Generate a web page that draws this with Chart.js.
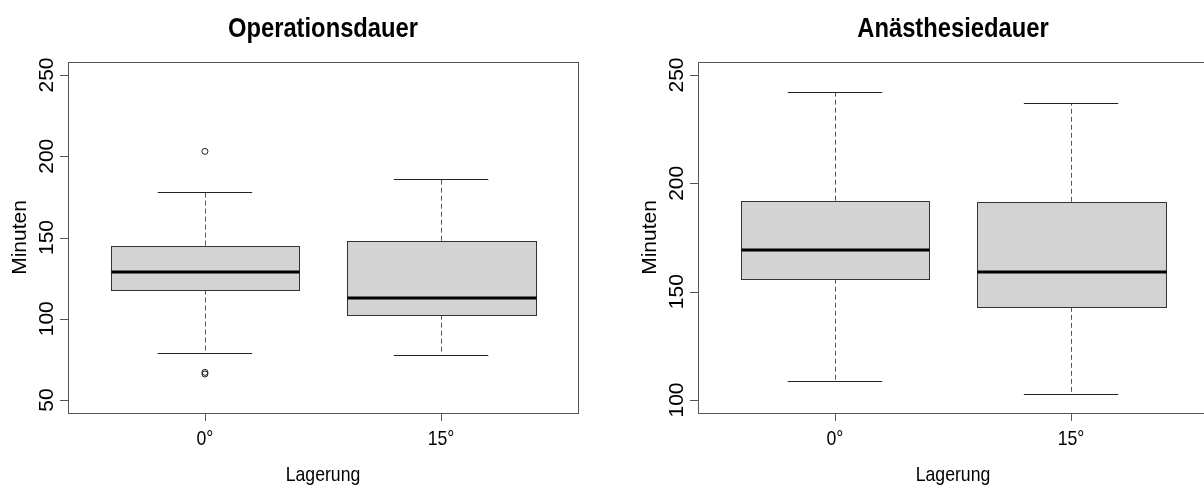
<!DOCTYPE html>
<html>
<head>
<meta charset="utf-8">
<script src="https://cdn.jsdelivr.net/npm/chart.js@4.4.1/dist/chart.umd.min.js"></script>
<style>
  html, body { margin: 0; padding: 0; background: #fff; overflow: hidden; }
  #wrap { position: relative; width: 1204px; height: 487px; overflow: hidden; }
  #c1 { position: absolute; left: 0; top: 0; }
  #c2 { position: absolute; left: 602px; top: 0; }
</style>
</head>
<body>
<div id="wrap">
  <canvas id="c1" width="602" height="487"></canvas>
  <canvas id="c2" width="620" height="487"></canvas>
</div>
<script>
// Boxplots Operationsdauer / Anästhesiedauer nach Lagerung (R-style, Chart.js)
const categories = ['0°', '15°'];

// Operationsdauer (Minuten)
const opLow = [79, 78];
const opQ1 = [118, 102.5];
const opMedian = [129, 113];
const opQ3 = [145, 148];
const opHigh = [178, 186];
const opOutliers = [{ x: 1, y: 203 }, { x: 1, y: 67 }, { x: 1, y: 66 }];
const opTicks = [50, 100, 150, 200, 250];

// Anästhesiedauer (Minuten)
const anLow = [109, 103];
const anQ1 = [156, 143];
const anMedian = [169, 159];
const anQ3 = [192, 191.5];
const anHigh = [242, 237];
const anOutliers = [];
const anTicks = [100, 150, 200, 250];

const FONT = '"Liberation Sans", Arial, sans-serif';
const SX = 0.84;  // horizontal text is narrow in the original

function hText(ctx, txt, x, y, font, sx) {
  ctx.save();
  ctx.font = font; ctx.fillStyle = '#000';
  ctx.textAlign = 'center'; ctx.textBaseline = 'alphabetic';
  ctx.translate(x, y); ctx.scale(sx, 1);
  ctx.fillText(txt, 0, 0);
  ctx.restore();
}
function vText(ctx, txt, x, y, font) {
  ctx.save();
  ctx.font = font; ctx.fillStyle = '#000';
  ctx.textAlign = 'center'; ctx.textBaseline = 'alphabetic';
  ctx.translate(x, y); ctx.rotate(-Math.PI / 2);
  ctx.fillText(txt, 0, 0);
  ctx.restore();
}
const px = v => Math.round(v) + 0.5;

const rbox = {
  id: 'rbox',
  beforeDatasetsDraw(chart, args, o) {
    const ctx = chart.ctx, xs = chart.scales.x, ys = chart.scales.y;
    ctx.save();
    for (let i = 0; i < o.median.length; i++) {
      const cx = xs.getPixelForValue(i + 1);
      const bl = xs.getPixelForValue(i + 1 - 0.4), br = xs.getPixelForValue(i + 1 + 0.4);
      const cl = xs.getPixelForValue(i + 1 - 0.2), cr = xs.getPixelForValue(i + 1 + 0.2);
      const yq1 = ys.getPixelForValue(o.q1[i]), yq3 = ys.getPixelForValue(o.q3[i]);
      const ylo = ys.getPixelForValue(o.low[i]), yhi = ys.getPixelForValue(o.high[i]);
      const ymed = ys.getPixelForValue(o.median[i]);
      // whiskers (dashed)
      ctx.strokeStyle = '#555'; ctx.lineWidth = 1; ctx.setLineDash([5, 3]);
      ctx.beginPath();
      ctx.moveTo(px(cx), yq3); ctx.lineTo(px(cx), yhi);
      ctx.moveTo(px(cx), yq1); ctx.lineTo(px(cx), ylo);
      ctx.stroke();
      ctx.setLineDash([]);
      // caps
      ctx.strokeStyle = '#222';
      ctx.beginPath();
      ctx.moveTo(cl, px(yhi)); ctx.lineTo(cr, px(yhi));
      ctx.moveTo(cl, px(ylo)); ctx.lineTo(cr, px(ylo));
      ctx.stroke();
      // box
      ctx.fillStyle = '#D3D3D3';
      ctx.fillRect(px(bl), px(yq3), Math.round(br) - Math.round(bl), Math.round(yq1) - Math.round(yq3));
      ctx.strokeStyle = '#333';
      ctx.strokeRect(px(bl), px(yq3), Math.round(br) - Math.round(bl), Math.round(yq1) - Math.round(yq3));
      // median
      ctx.strokeStyle = '#000'; ctx.lineWidth = 3;
      ctx.beginPath();
      ctx.moveTo(px(bl), Math.round(ymed)); ctx.lineTo(px(br), Math.round(ymed));
      ctx.stroke();
    }
    ctx.restore();
  },
  afterDraw(chart, args, o) {
    const ctx = chart.ctx, xs = chart.scales.x, ys = chart.scales.y, a = chart.chartArea;
    ctx.save();
    // frame
    ctx.strokeStyle = '#555'; ctx.lineWidth = 1;
    ctx.strokeRect(px(a.left), px(a.top), Math.round(a.right) - Math.round(a.left), Math.round(a.bottom) - Math.round(a.top));
    // y axis ticks
    ctx.beginPath();
    o.ticks.forEach(t => {
      const y = px(ys.getPixelForValue(t));
      ctx.moveTo(a.left - 8, y); ctx.lineTo(a.left, y);
    });
    // x axis ticks
    categories.forEach((c, i) => {
      const x = px(xs.getPixelForValue(i + 1));
      ctx.moveTo(x, a.bottom); ctx.lineTo(x, a.bottom + 8);
    });
    ctx.stroke();
    o.ticks.forEach(t => {
      vText(ctx, String(t), a.left - 15, ys.getPixelForValue(t), '21px ' + FONT);
    });
    categories.forEach((c, i) => {
      hText(ctx, c, xs.getPixelForValue(i + 1), 445, '21px ' + FONT, SX);
    });
    const mid = (a.left + a.right) / 2;
    hText(ctx, 'Lagerung', mid, 481, '21px ' + FONT, SX);
    vText(ctx, 'Minuten', a.left - 42, (a.top + a.bottom) / 2, '21px ' + FONT);
    hText(ctx, o.title, mid, 37, 'bold 27px ' + FONT, 0.88);
    ctx.restore();
  }
};

function makeChart(id, pad, yMin, yMax, stats, outliers) {
  return new Chart(document.getElementById(id), {
    type: 'scatter',
    data: {
      datasets: [{
        data: outliers,
        pointStyle: 'circle', pointRadius: 3, borderWidth: 1,
        borderColor: '#222', backgroundColor: 'rgba(0,0,0,0)'
      }]
    },
    options: {
      responsive: false, animation: false,
      layout: { padding: pad },
      scales: {
        x: { type: 'linear', min: 0.42, max: 2.58, display: false },
        y: { type: 'linear', min: yMin, max: yMax, display: false }
      },
      plugins: { legend: { display: false }, tooltip: { enabled: false }, rbox: stats }
    },
    plugins: [rbox]
  });
}

makeChart('c1', { left: 68, right: 24, top: 62, bottom: 74 }, 42, 258,
  { title: 'Operationsdauer', low: opLow, q1: opQ1, median: opMedian, q3: opQ3, high: opHigh, ticks: opTicks },
  opOutliers);
makeChart('c2', { left: 96, right: 14, top: 62, bottom: 74 }, 94, 256,
  { title: 'Anästhesiedauer', low: anLow, q1: anQ1, median: anMedian, q3: anQ3, high: anHigh, ticks: anTicks },
  anOutliers);
</script>
</body>
</html>
